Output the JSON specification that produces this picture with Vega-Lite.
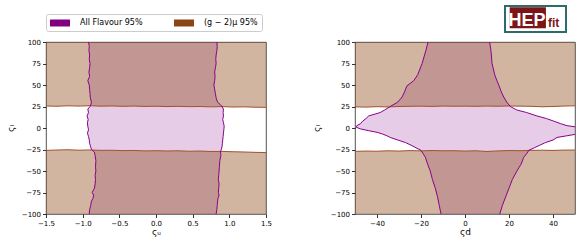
{
  "$schema": "https://vega.github.io/schema/vega-lite/v6.json",
  "padding": {"left": 5, "top": 5, "right": 5, "bottom": 0},
  "background": "white",
  "config": {
    "font": "DejaVu Sans",
    "view": {"stroke": "#262626", "strokeWidth": 0.8},
    "axis": {"grid": false, "domain": false, "labelFont": "DejaVu Sans", "labelFontSize": 7, "labelColor": "#000", "tickColor": "#000", "tickSize": 3.5, "tickWidth": 0.8, "labelPadding": 2, "titleFont": "DejaVu Sans", "titleFontSize": 9, "titleFontWeight": "normal", "titleColor": "#000", "labelFlush": false, "labelOverlap": false, "labelSeparation": 0},
    "concat": {"spacing": 0}
  },
  "datasets": {
    "purpleL": [
      {"y": 100, "xl": -0.92, "xr": 0.83}, {"y": 95, "xl": -0.91, "xr": 0.835}, {"y": 90, "xl": -0.915, "xr": 0.83},
      {"y": 85, "xl": -0.905, "xr": 0.82}, {"y": 80, "xl": -0.91, "xr": 0.815}, {"y": 75, "xl": -0.9, "xr": 0.82},
      {"y": 70, "xl": -0.905, "xr": 0.81}, {"y": 65, "xl": -0.915, "xr": 0.8}, {"y": 60, "xl": -0.905, "xr": 0.805},
      {"y": 55, "xl": -0.93, "xr": 0.8}, {"y": 50, "xl": -0.91, "xr": 0.79}, {"y": 45, "xl": -0.905, "xr": 0.8},
      {"y": 40, "xl": -0.9, "xr": 0.81}, {"y": 35, "xl": -0.895, "xr": 0.82}, {"y": 30, "xl": -0.88, "xr": 0.84},
      {"y": 27, "xl": -0.89, "xr": 0.88}, {"y": 25, "xl": -0.9, "xr": 0.9}, {"y": 22, "xl": -0.93, "xr": 0.92},
      {"y": 18, "xl": -0.92, "xr": 0.915}, {"y": 14, "xl": -0.94, "xr": 0.92}, {"y": 10, "xl": -0.925, "xr": 0.91},
      {"y": 6, "xl": -0.935, "xr": 0.92}, {"y": 2, "xl": -0.93, "xr": 0.93}, {"y": -2, "xl": -0.92, "xr": 0.925},
      {"y": -6, "xl": -0.935, "xr": 0.92}, {"y": -10, "xl": -0.92, "xr": 0.915}, {"y": -14, "xl": -0.91, "xr": 0.91},
      {"y": -18, "xl": -0.905, "xr": 0.905}, {"y": -22, "xl": -0.89, "xr": 0.9}, {"y": -25, "xl": -0.88, "xr": 0.89},
      {"y": -28, "xl": -0.84, "xr": 0.88}, {"y": -32, "xl": -0.83, "xr": 0.885}, {"y": -38, "xl": -0.82, "xr": 0.87},
      {"y": -45, "xl": -0.825, "xr": 0.865}, {"y": -50, "xl": -0.82, "xr": 0.86}, {"y": -55, "xl": -0.83, "xr": 0.855},
      {"y": -60, "xl": -0.825, "xr": 0.85}, {"y": -65, "xl": -0.83, "xr": 0.86}, {"y": -70, "xl": -0.84, "xr": 0.855},
      {"y": -75, "xl": -0.87, "xr": 0.85}, {"y": -78, "xl": -0.85, "xr": 0.86}, {"y": -82, "xl": -0.86, "xr": 0.845},
      {"y": -85, "xl": -0.88, "xr": 0.84}, {"y": -90, "xl": -0.89, "xr": 0.835}, {"y": -95, "xl": -0.905, "xr": 0.83},
      {"y": -100, "xl": -0.91, "xr": 0.82}
    ],
    "purpleR": [
      {"y": 100, "xl": -16.8, "xr": 11.2}, {"y": 90, "xl": -17.8, "xr": 11.8}, {"y": 75, "xl": -19.5, "xr": 12.3},
      {"y": 62, "xl": -21.5, "xr": 13.5}, {"y": 55, "xl": -23.3, "xr": 14.5}, {"y": 49, "xl": -26.4, "xr": 15.5},
      {"y": 42, "xl": -27.5, "xr": 16.5}, {"y": 36, "xl": -28.6, "xr": 17.6}, {"y": 30, "xl": -30.6, "xr": 19},
      {"y": 25, "xl": -34, "xr": 20.6}, {"y": 21, "xl": -36.5, "xr": 23.5}, {"y": 18, "xl": -38.5, "xr": 28},
      {"y": 14, "xl": -43.8, "xr": 32.7}, {"y": 11, "xl": -45, "xr": 37}, {"y": 8, "xl": -46.5, "xr": 40.3},
      {"y": 5, "xl": -47.5, "xr": 43.5}, {"y": 2.7, "xl": -49.2, "xr": 46.4}, {"y": 1, "xl": -49.5, "xr": 51},
      {"y": -1, "xl": -47.6, "xr": 51}, {"y": -3, "xl": -44, "xr": 51}, {"y": -5, "xl": -40, "xr": 51},
      {"y": -7, "xl": -37.5, "xr": 51}, {"y": -9, "xl": -35.5, "xr": 46.4}, {"y": -11, "xl": -34, "xr": 41.8},
      {"y": -14, "xl": -30.5, "xr": 40}, {"y": -17, "xl": -27, "xr": 36.5}, {"y": -20, "xl": -24.5, "xr": 34},
      {"y": -23, "xl": -22.3, "xr": 31.5}, {"y": -26, "xl": -20, "xr": 29}, {"y": -30, "xl": -19, "xr": 28},
      {"y": -34, "xl": -18, "xr": 26.7}, {"y": -42, "xl": -17, "xr": 25.5}, {"y": -50, "xl": -15.8, "xr": 23.6},
      {"y": -60, "xl": -14.8, "xr": 21.5}, {"y": -70, "xl": -13.5, "xr": 20}, {"y": -80, "xl": -12.5, "xr": 18.5},
      {"y": -90, "xl": -11.7, "xr": 17}, {"y": -100, "xl": -10.9, "xr": 15.8}
    ],
    "g2L": [
      {"x": -1.5, "top": 25.6, "bot": -26.0}, {"x": -1.35, "top": 25.3, "bot": -25.6}, {"x": -1.2, "top": 25.8, "bot": -25.3},
      {"x": -1.05, "top": 25.5, "bot": -25.8}, {"x": -0.9, "top": 25.9, "bot": -25.5}, {"x": -0.75, "top": 25.4, "bot": -26.0},
      {"x": -0.6, "top": 25.6, "bot": -25.9}, {"x": -0.45, "top": 25.2, "bot": -26.3}, {"x": -0.3, "top": 25.5, "bot": -26.1},
      {"x": -0.15, "top": 25.1, "bot": -26.6}, {"x": 0, "top": 25.3, "bot": -26.4}, {"x": 0.15, "top": 24.9, "bot": -26.7},
      {"x": 0.3, "top": 25.2, "bot": -26.5}, {"x": 0.45, "top": 24.8, "bot": -27.0}, {"x": 0.6, "top": 25.0, "bot": -26.8},
      {"x": 0.75, "top": 24.6, "bot": -27.3}, {"x": 0.9, "top": 24.9, "bot": -27.2}, {"x": 1.05, "top": 24.4, "bot": -27.6},
      {"x": 1.2, "top": 24.6, "bot": -27.9}, {"x": 1.35, "top": 24.2, "bot": -28.3}, {"x": 1.5, "top": 24.0, "bot": -28.6}
    ],
    "g2R": [
      {"x": -50, "top": 24.6, "bot": -27.2}, {"x": -45, "top": 24.3, "bot": -26.8}, {"x": -40, "top": 24.8, "bot": -27.0},
      {"x": -35, "top": 24.5, "bot": -26.5}, {"x": -30, "top": 25.0, "bot": -26.8}, {"x": -25, "top": 25.2, "bot": -26.3},
      {"x": -20, "top": 25.4, "bot": -26.6}, {"x": -15, "top": 25.1, "bot": -26.2}, {"x": -10, "top": 25.5, "bot": -26.5},
      {"x": -5, "top": 25.3, "bot": -26.4}, {"x": 0, "top": 25.4, "bot": -26.8}, {"x": 5, "top": 25.2, "bot": -26.5},
      {"x": 10, "top": 25.5, "bot": -27.3}, {"x": 15, "top": 25.3, "bot": -26.6}, {"x": 20, "top": 25.6, "bot": -26.2},
      {"x": 25, "top": 25.4, "bot": -26.4}, {"x": 30, "top": 25.2, "bot": -26.0}, {"x": 35, "top": 24.7, "bot": -25.8},
      {"x": 40, "top": 25.0, "bot": -26.1}, {"x": 45, "top": 25.5, "bot": -25.7}, {"x": 50, "top": 25.8, "bot": -25.6}
    ],
    "logo": [
      {"part": "HEP", "w": 38.6},
      {"part": "fit", "w": 21.4}
    ]
  },
  "vconcat": [
    {
      "hconcat": [
        {
          "width": 458, "height": 26,
          "view": {"stroke": null},
          "data": {"values": [{"t": ""}]},
          "mark": {"type": "text"},
          "encoding": {"text": {"field": "t"}}
        },
        {
          "width": 61, "height": 26,
          "view": {"stroke": "#2e6b6b", "strokeWidth": 2, "fill": "white"},
          "data": {"name": "logo"},
          "transform": [{"stack": "w", "groupby": [], "sort": [{"field": "part", "order": "ascending"}], "as": ["x0", "x1"]}],
          "layer": [
            {
              "transform": [{"filter": "datum.part === 'HEP'"}],
              "mark": {"type": "bar", "fill": "#7b1518"},
              "encoding": {
                "x": {"field": "x0", "type": "quantitative", "scale": {"domain": [-1, 60]}, "axis": null},
                "x2": {"field": "x1"},
                "y": {"datum": 3.7, "type": "quantitative", "scale": {"domain": [0, 26]}, "axis": null},
                "y2": {"datum": 24.7}
              }
            },
            {
              "transform": [{"filter": "datum.part === 'HEP'"}],
              "mark": {"type": "text", "font": "Liberation Sans", "fontWeight": "bold", "fontSize": 18, "fill": "white", "align": "center", "baseline": "alphabetic", "dx": -19},
              "encoding": {
                "x": {"field": "x1", "type": "quantitative", "axis": null},
                "y": {"datum": 6.5, "type": "quantitative", "axis": null},
                "text": {"field": "part"}
              }
            },
            {
              "transform": [{"filter": "datum.part === 'fit'"}],
              "mark": {"type": "text", "font": "Liberation Sans", "fontWeight": "bold", "fontSize": 12, "fill": "#7b1518", "align": "left", "baseline": "alphabetic", "dx": 2},
              "encoding": {
                "x": {"field": "x0", "type": "quantitative", "axis": null},
                "y": {"datum": 5.0, "type": "quantitative", "axis": null},
                "text": {"field": "part"}
              }
            }
          ]
        }
      ]
    },
    {
      "spacing": 39,
      "hconcat": [
        {
          "width": 220, "height": 172,
          "layer": [
            {
              "data": {"name": "purpleL"},
              "mark": {"type": "area", "orient": "horizontal", "opacity": 0.2, "clip": true},
              "encoding": {
                "y": {"field": "y", "type": "quantitative", "scale": {"domain": [-100, 100], "nice": false}, "axis": {"values": [-100, -75, -50, -25, 0, 25, 50, 75, 100], "format": "d", "title": "ςₗ", "titlePadding": 6, "labelOverlap": false}},
                "x": {"field": "xl", "type": "quantitative", "scale": {"domain": [-1.5, 1.5], "nice": false}, "axis": {"values": [-1.5, -1, -0.5, 0, 0.5, 1, 1.5], "format": ".1f", "title": "ςᵤ", "titlePadding": 1, "labelOverlap": false}},
                "x2": {"field": "xr"},
                "color": {
                  "datum": "All Flavour 95%", "type": "nominal",
                  "scale": {"domain": ["All Flavour 95%", "(g − 2)μ 95%"], "range": ["#800080", "#8b4513"]},
                  "legend": {"orient": "none", "legendX": 0, "legendY": 8, "direction": "horizontal", "title": null,
                    "symbolType": "M-1,-0.7L3,-0.7L3,0.7L-1,0.7Z", "symbolSize": 100, "symbolStrokeWidth": 0, "symbolOpacity": 1,
                    "labelFontSize": 8, "labelFont": "DejaVu Sans", "labelColor": "#000", "labelOffset": 20, "columnPadding": 31,
                    "strokeColor": "#cccccc", "fillColor": "white", "padding": 4, "cornerRadius": 2,
                    "encode": {"symbols": {"update": {"opacity": {"value": 1}, "fillOpacity": {"value": 1}}}}}
                }
              }
            },
            {
              "data": {"name": "g2L"},
              "mark": {"type": "area", "opacity": 0.4, "clip": true},
              "encoding": {
                "x": {"field": "x", "type": "quantitative", "axis": {"values": [-1.5, -1, -0.5, 0, 0.5, 1, 1.5], "format": ".1f", "title": "ςᵤ", "titlePadding": 1, "labelOverlap": false}},
                "y": {"field": "top", "type": "quantitative", "axis": {"values": [-100, -75, -50, -25, 0, 25, 50, 75, 100], "format": "d", "title": "ςₗ", "titlePadding": 6, "labelOverlap": false}},
                "y2": {"datum": 100},
                "color": {"datum": "(g − 2)μ 95%", "type": "nominal"}
              }
            },
            {
              "data": {"name": "g2L"},
              "mark": {"type": "area", "opacity": 0.4, "clip": true},
              "encoding": {
                "x": {"field": "x", "type": "quantitative", "axis": {"values": [-1.5, -1, -0.5, 0, 0.5, 1, 1.5], "format": ".1f", "title": "ςᵤ", "titlePadding": 1, "labelOverlap": false}},
                "y": {"field": "bot", "type": "quantitative", "axis": {"values": [-100, -75, -50, -25, 0, 25, 50, 75, 100], "format": "d", "title": "ςₗ", "titlePadding": 6, "labelOverlap": false}},
                "y2": {"datum": -100},
                "color": {"datum": "(g − 2)μ 95%", "type": "nominal"}
              }
            },
            {
              "data": {"name": "g2L"},
              "mark": {"type": "line", "color": "#a0522d", "strokeWidth": 1, "clip": true},
              "encoding": {
                "x": {"field": "x", "type": "quantitative", "axis": {"values": [-1.5, -1, -0.5, 0, 0.5, 1, 1.5], "format": ".1f", "title": "ςᵤ", "titlePadding": 1, "labelOverlap": false}},
                "y": {"field": "top", "type": "quantitative", "axis": {"values": [-100, -75, -50, -25, 0, 25, 50, 75, 100], "format": "d", "title": "ςₗ", "titlePadding": 6, "labelOverlap": false}}
              }
            },
            {
              "data": {"name": "g2L"},
              "mark": {"type": "line", "color": "#a0522d", "strokeWidth": 1, "clip": true},
              "encoding": {
                "x": {"field": "x", "type": "quantitative", "axis": {"values": [-1.5, -1, -0.5, 0, 0.5, 1, 1.5], "format": ".1f", "title": "ςᵤ", "titlePadding": 1, "labelOverlap": false}},
                "y": {"field": "bot", "type": "quantitative", "axis": {"values": [-100, -75, -50, -25, 0, 25, 50, 75, 100], "format": "d", "title": "ςₗ", "titlePadding": 6, "labelOverlap": false}}
              }
            },
            {
              "data": {"name": "purpleL"},
              "mark": {"type": "line", "color": "#8b008b", "strokeWidth": 1, "clip": true},
              "encoding": {
                "x": {"field": "xl", "type": "quantitative", "axis": {"values": [-1.5, -1, -0.5, 0, 0.5, 1, 1.5], "format": ".1f", "title": "ςᵤ", "titlePadding": 1, "labelOverlap": false}},
                "y": {"field": "y", "type": "quantitative", "axis": {"values": [-100, -75, -50, -25, 0, 25, 50, 75, 100], "format": "d", "title": "ςₗ", "titlePadding": 6, "labelOverlap": false}},
                "order": {"field": "y"}
              }
            },
            {
              "data": {"name": "purpleL"},
              "mark": {"type": "line", "color": "#8b008b", "strokeWidth": 1, "clip": true},
              "encoding": {
                "x": {"field": "xr", "type": "quantitative", "axis": {"values": [-1.5, -1, -0.5, 0, 0.5, 1, 1.5], "format": ".1f", "title": "ςᵤ", "titlePadding": 1, "labelOverlap": false}},
                "y": {"field": "y", "type": "quantitative", "axis": {"values": [-100, -75, -50, -25, 0, 25, 50, 75, 100], "format": "d", "title": "ςₗ", "titlePadding": 6, "labelOverlap": false}},
                "order": {"field": "y"}
              }
            }
          ]
        },
        {
          "width": 220, "height": 172,
          "layer": [
            {
              "data": {"name": "purpleR"},
              "mark": {"type": "area", "orient": "horizontal", "opacity": 0.2, "clip": true},
              "encoding": {
                "y": {"field": "y", "type": "quantitative", "scale": {"domain": [-100, 100], "nice": false}, "axis": {"values": [-100, -75, -50, -25, 0, 25, 50, 75, 100], "format": "d", "title": "ςₗ", "titlePadding": 9, "labelOverlap": false}},
                "x": {"field": "xl", "type": "quantitative", "scale": {"domain": [-50, 50], "nice": false}, "axis": {"values": [-40, -20, 0, 20, 40], "format": "d", "title": "ςd", "titlePadding": 1, "labelOverlap": false}},
                "x2": {"field": "xr"},
                "color": {"datum": "All Flavour 95%", "type": "nominal"}
              }
            },
            {
              "data": {"name": "g2R"},
              "mark": {"type": "area", "opacity": 0.4, "clip": true},
              "encoding": {
                "x": {"field": "x", "type": "quantitative", "axis": {"values": [-40, -20, 0, 20, 40], "format": "d", "title": "ςd", "titlePadding": 1, "labelOverlap": false}},
                "y": {"field": "top", "type": "quantitative", "axis": {"values": [-100, -75, -50, -25, 0, 25, 50, 75, 100], "format": "d", "title": "ςₗ", "titlePadding": 9, "labelOverlap": false}},
                "y2": {"datum": 100},
                "color": {"datum": "(g − 2)μ 95%", "type": "nominal"}
              }
            },
            {
              "data": {"name": "g2R"},
              "mark": {"type": "area", "opacity": 0.4, "clip": true},
              "encoding": {
                "x": {"field": "x", "type": "quantitative", "axis": {"values": [-40, -20, 0, 20, 40], "format": "d", "title": "ςd", "titlePadding": 1, "labelOverlap": false}},
                "y": {"field": "bot", "type": "quantitative", "axis": {"values": [-100, -75, -50, -25, 0, 25, 50, 75, 100], "format": "d", "title": "ςₗ", "titlePadding": 9, "labelOverlap": false}},
                "y2": {"datum": -100},
                "color": {"datum": "(g − 2)μ 95%", "type": "nominal"}
              }
            },
            {
              "data": {"name": "g2R"},
              "mark": {"type": "line", "color": "#a0522d", "strokeWidth": 1, "clip": true},
              "encoding": {
                "x": {"field": "x", "type": "quantitative", "axis": {"values": [-40, -20, 0, 20, 40], "format": "d", "title": "ςd", "titlePadding": 1, "labelOverlap": false}},
                "y": {"field": "top", "type": "quantitative", "axis": {"values": [-100, -75, -50, -25, 0, 25, 50, 75, 100], "format": "d", "title": "ςₗ", "titlePadding": 9, "labelOverlap": false}}
              }
            },
            {
              "data": {"name": "g2R"},
              "mark": {"type": "line", "color": "#a0522d", "strokeWidth": 1, "clip": true},
              "encoding": {
                "x": {"field": "x", "type": "quantitative", "axis": {"values": [-40, -20, 0, 20, 40], "format": "d", "title": "ςd", "titlePadding": 1, "labelOverlap": false}},
                "y": {"field": "bot", "type": "quantitative", "axis": {"values": [-100, -75, -50, -25, 0, 25, 50, 75, 100], "format": "d", "title": "ςₗ", "titlePadding": 9, "labelOverlap": false}}
              }
            },
            {
              "data": {"name": "purpleR"},
              "mark": {"type": "line", "color": "#8b008b", "strokeWidth": 1, "clip": true},
              "encoding": {
                "x": {"field": "xl", "type": "quantitative", "axis": {"values": [-40, -20, 0, 20, 40], "format": "d", "title": "ςd", "titlePadding": 1, "labelOverlap": false}},
                "y": {"field": "y", "type": "quantitative", "axis": {"values": [-100, -75, -50, -25, 0, 25, 50, 75, 100], "format": "d", "title": "ςₗ", "titlePadding": 9, "labelOverlap": false}},
                "order": {"field": "y"}
              }
            },
            {
              "data": {"name": "purpleR"},
              "mark": {"type": "line", "color": "#8b008b", "strokeWidth": 1, "clip": true},
              "encoding": {
                "x": {"field": "xr", "type": "quantitative", "axis": {"values": [-40, -20, 0, 20, 40], "format": "d", "title": "ςd", "titlePadding": 1, "labelOverlap": false}},
                "y": {"field": "y", "type": "quantitative", "axis": {"values": [-100, -75, -50, -25, 0, 25, 50, 75, 100], "format": "d", "title": "ςₗ", "titlePadding": 9, "labelOverlap": false}},
                "order": {"field": "y"}
              }
            }
          ]
        }
      ]
    }
  ],
  "spacing": 4
}
